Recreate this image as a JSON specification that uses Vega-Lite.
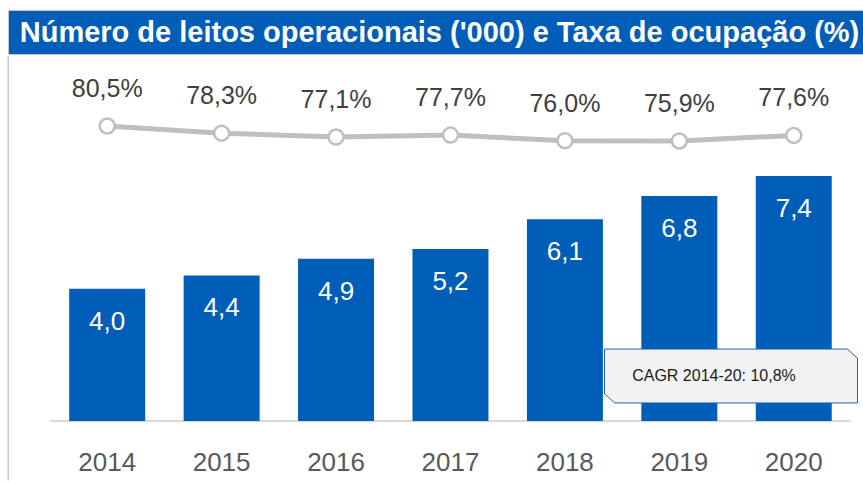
{
  "$schema": "https://vega.github.io/schema/vega-lite/v6.json",
  "padding": {"left": 7, "top": 9, "right": 0, "bottom": 0},
  "spacing": 0,
  "background": "white",
  "config": {"view": {"stroke": null}, "font": "Liberation Sans", "concat": {"spacing": 0}},
  "vconcat": [
    {
      "width": 855,
      "height": 44,
      "view": {"fill": "#005EB8", "stroke": "#C8C8C8", "strokeWidth": 1},
      "data": {"values": [{"titulo": "Número de leitos operacionais ('000) e Taxa de ocupação (%)"}]},
      "mark": {"type": "text", "color": "white", "fontSize": 29, "fontWeight": "bold", "align": "center", "baseline": "middle", "dx": 4, "dy": 1},
      "encoding": {"text": {"field": "titulo", "type": "nominal"}}
    },
    {
      "width": 855,
      "height": 365,
      "data": {"values": [
        {"ano": "2014", "leitos": 4.0, "leitos_txt": "4,0", "taxa": 80.5, "taxa_txt": "80,5%"},
        {"ano": "2015", "leitos": 4.4, "leitos_txt": "4,4", "taxa": 78.3, "taxa_txt": "78,3%"},
        {"ano": "2016", "leitos": 4.9, "leitos_txt": "4,9", "taxa": 77.1, "taxa_txt": "77,1%"},
        {"ano": "2017", "leitos": 5.2, "leitos_txt": "5,2", "taxa": 77.7, "taxa_txt": "77,7%"},
        {"ano": "2018", "leitos": 6.1, "leitos_txt": "6,1", "taxa": 76.0, "taxa_txt": "76,0%"},
        {"ano": "2019", "leitos": 6.8, "leitos_txt": "6,8", "taxa": 75.9, "taxa_txt": "75,9%"},
        {"ano": "2020", "leitos": 7.4, "leitos_txt": "7,4", "taxa": 77.6, "taxa_txt": "77,6%"}
      ]},
      "encoding": {
        "x": {
          "field": "ano",
          "type": "ordinal",
          "scale": {"paddingInner": 0.336, "paddingOuter": 0.404, "align": 0.662},
          "axis": {"title": null, "domain": false, "ticks": false, "labelAngle": 0, "labelFontSize": 26, "labelColor": "#595959", "labelPadding": 28, "grid": false}
        }
      },
      "layer": [
        {
          "data": {"values": [{"a": "2014", "top": 11.03, "bottom": -1.8}]},
          "mark": {"type": "rule", "color": "#C8C8C8", "strokeWidth": 1.5},
          "encoding": {
            "x": {"field": "a", "type": "ordinal", "bandPosition": -0.803},
            "y": {"field": "top", "type": "quantitative", "scale": {"domain": [0, 11.03]}, "axis": null},
            "y2": {"field": "bottom"}
          }
        },
        {
          "data": {"values": [{"a": "2014", "b": "2020", "z": 0}]},
          "mark": {"type": "rule", "color": "#D9D9D9", "strokeWidth": 2},
          "encoding": {
            "x": {"field": "a", "type": "ordinal", "bandPosition": -0.25},
            "x2": {"field": "b", "bandPosition": 1.25},
            "y": {"field": "z", "type": "quantitative", "scale": {"domain": [0, 11.03]}, "axis": null}
          }
        },
        {
          "mark": {"type": "bar", "color": "#005EB8"},
          "encoding": {"y": {"field": "leitos", "type": "quantitative", "scale": {"domain": [0, 11.03]}, "axis": null}}
        },
        {
          "mark": {"type": "text", "color": "white", "fontSize": 26, "baseline": "middle", "align": "center", "dy": 33},
          "encoding": {
            "y": {"field": "leitos", "type": "quantitative", "scale": {"domain": [0, 11.03]}, "axis": null},
            "text": {"field": "leitos_txt", "type": "nominal"}
          }
        },
        {
          "mark": {"type": "line", "color": "#BFBFBF", "strokeWidth": 5},
          "encoding": {"y": {"field": "taxa", "type": "quantitative", "scale": {"domain": [-10.27, 102.04]}, "axis": null}}
        },
        {
          "mark": {"type": "point", "filled": true, "fill": "white", "stroke": "#BFBFBF", "strokeWidth": 2.5, "size": 225, "opacity": 1},
          "encoding": {"y": {"field": "taxa", "type": "quantitative", "scale": {"domain": [-10.27, 102.04]}, "axis": null}}
        },
        {
          "mark": {"type": "text", "color": "#404040", "fontSize": 25, "baseline": "middle", "align": "center", "dy": -37},
          "encoding": {
            "y": {"field": "taxa", "type": "quantitative", "scale": {"domain": [-10.27, 102.04]}, "axis": null},
            "text": {"field": "taxa_txt", "type": "nominal"}
          }
        },
        {
          "data": {"values": [{"ano": "2019", "pos": 1.36, "txt": "CAGR 2014-20:  10,8%"}]},
          "mark": {"type": "point", "shape": "M -1 -0.213 L 0.92 -0.213 L 1 -0.14 L 1 0.213 L -0.92 0.213 L -1 0.14 Z", "size": 64009, "filled": true, "fill": "#F2F2F2", "stroke": "#1F63B5", "strokeWidth": 1, "opacity": 1},
          "encoding": {
            "x": {"field": "ano", "type": "ordinal", "bandPosition": 1.18},
            "y": {"field": "pos", "type": "quantitative", "scale": {"domain": [0, 11.03]}, "axis": null}
          }
        },
        {
          "data": {"values": [{"ano": "2019", "pos": 1.36, "txt": "CAGR 2014-20:  10,8%"}]},
          "mark": {"type": "text", "color": "#1A1A1A", "fontSize": 16, "baseline": "middle", "align": "center", "dx": -17},
          "encoding": {
            "x": {"field": "ano", "type": "ordinal", "bandPosition": 1.18},
            "y": {"field": "pos", "type": "quantitative", "scale": {"domain": [0, 11.03]}, "axis": null},
            "text": {"field": "txt", "type": "nominal"}
          }
        }
      ],
      "resolve": {"scale": {"y": "independent"}}
    }
  ]
}
